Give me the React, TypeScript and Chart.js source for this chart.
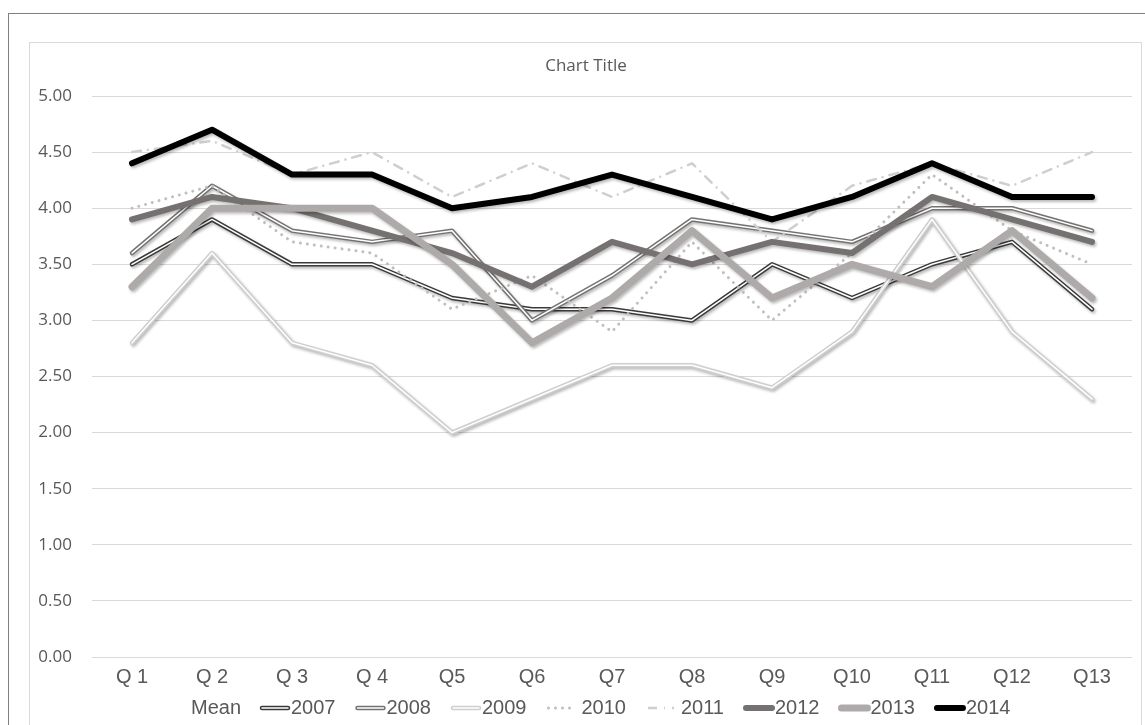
import React, { useEffect, useRef } from "react";
import { Chart, registerables } from "chart.js";

Chart.register(...registerables);

const categories = ["Q 1", "Q 2", "Q 3", "Q 4", "Q5", "Q6", "Q7", "Q8", "Q9", "Q10", "Q11", "Q12", "Q13"];
const s2007 = [3.5, 3.9, 3.5, 3.5, 3.2, 3.1, 3.1, 3.0, 3.5, 3.2, 3.5, 3.7, 3.1];
const s2008 = [3.6, 4.2, 3.8, 3.7, 3.8, 3.0, 3.4, 3.9, 3.8, 3.7, 4.0, 4.0, 3.8];
const s2009 = [2.8, 3.6, 2.8, 2.6, 2.0, 2.3, 2.6, 2.6, 2.4, 2.9, 3.9, 2.9, 2.3];
const s2010 = [4.0, 4.2, 3.7, 3.6, 3.1, 3.4, 2.9, 3.7, 3.0, 3.6, 4.3, 3.8, 3.5];
const s2011 = [4.5, 4.6, 4.3, 4.5, 4.1, 4.4, 4.1, 4.4, 3.7, 4.2, 4.4, 4.2, 4.5];
const s2012 = [3.9, 4.1, 4.0, 3.8, 3.6, 3.3, 3.7, 3.5, 3.7, 3.6, 4.1, 3.9, 3.7];
const s2013 = [3.3, 4.0, 4.0, 4.0, 3.5, 2.8, 3.2, 3.8, 3.2, 3.5, 3.3, 3.8, 3.2];
const s2014 = [4.4, 4.7, 4.3, 4.3, 4.0, 4.1, 4.3, 4.1, 3.9, 4.1, 4.4, 4.1, 4.1];

const seriesLabels = ["2007", "2008", "2009", "2010", "2011", "2012", "2013", "2014"];
const seriesData = [s2007, s2008, s2009, s2010, s2011, s2012, s2013, s2014];
const legendLead = "Mean";
const chartTitle = "Chart Title";
const yMin = 0;
const yMax = 5;
const yStep = 0.5;

type Style = { kind: "compound" | "solid" | "dotted" | "dashdot"; color: string; width: number };
const seriesStyles: Style[] = [
  { kind: "compound", color: "#3a3a3a", width: 4.5 },
  { kind: "compound", color: "#767171", width: 4.5 },
  { kind: "compound", color: "#cfcfcf", width: 4.5 },
  { kind: "dotted", color: "#bfbfbf", width: 3 },
  { kind: "dashdot", color: "#d0cece", width: 2.5 },
  { kind: "solid", color: "#767171", width: 6 },
  { kind: "solid", color: "#aeaaaa", width: 7 },
  { kind: "solid", color: "#000000", width: 6 },
];

const TEXT = "#595959";

function buildDatasets() {
  const list: any[] = [];
  seriesData.forEach((data, i) => {
    const st = seriesStyles[i];
    const base: any = {
      label: seriesLabels[i],
      data,
      borderColor: st.color,
      borderWidth: st.width,
      pointRadius: 0,
      pointHoverRadius: 0,
      tension: 0,
      fill: false,
      borderJoinStyle: "round",
      borderCapStyle: "round",
      shadow: true,
    };
    if (st.kind === "dotted") {
      base.borderDash = [0.01, 7];
      base.shadow = false;
    } else if (st.kind === "dashdot") {
      base.borderDash = [9, 7, 0.01, 7];
      base.shadow = false;
    }
    list.push(base);
    if (st.kind === "compound") {
      list.push({
        label: seriesLabels[i] + "_inner",
        data,
        borderColor: "#ffffff",
        borderWidth: 1.5,
        pointRadius: 0,
        pointHoverRadius: 0,
        tension: 0,
        fill: false,
        borderJoinStyle: "round",
        borderCapStyle: "round",
        shadow: false,
      });
    }
  });
  const n = list.length;
  list.forEach((d, idx) => (d.order = n - idx));
  return list;
}

const shadowPlugin = {
  id: "shadowPlugin",
  beforeDatasetDraw(chart: any, args: any) {
    const ds = chart.data.datasets[args.index];
    if (ds && ds.shadow) {
      const ctx = chart.ctx;
      ctx.save();
      ctx.shadowColor = "rgba(0,0,0,0.28)";
      ctx.shadowBlur = 3;
      ctx.shadowOffsetX = 1.5;
      ctx.shadowOffsetY = 2;
    }
  },
  afterDatasetDraw(chart: any, args: any) {
    const ds = chart.data.datasets[args.index];
    if (ds && ds.shadow) chart.ctx.restore();
  },
};

function drawMarker(ctx: CanvasRenderingContext2D, st: Style, x0: number, x1: number, y: number) {
  ctx.save();
  ctx.beginPath();
  ctx.moveTo(x0, y);
  ctx.lineTo(x1, y);
  ctx.strokeStyle = st.color;
  ctx.lineWidth = st.width;
  ctx.lineCap = "round";
  if (st.kind === "dotted") ctx.setLineDash([0.01, 7]);
  if (st.kind === "dashdot") {
    ctx.lineCap = "butt";
    ctx.setLineDash([9, 7, 1, 7]);
  }
  ctx.stroke();
  if (st.kind === "compound") {
    ctx.beginPath();
    ctx.moveTo(x0, y);
    ctx.lineTo(x1, y);
    ctx.strokeStyle = "#ffffff";
    ctx.lineWidth = 1.5;
    ctx.stroke();
  }
  ctx.restore();
}

const decorPlugin = {
  id: "decorPlugin",
  afterDraw(chart: any) {
    const ctx: CanvasRenderingContext2D = chart.ctx;
    ctx.save();
    // title
    ctx.fillStyle = TEXT;
    ctx.font = '17px "Open Sans"';
    ctx.textAlign = "center";
    ctx.textBaseline = "middle";
    ctx.fillText(chartTitle, chart.width / 2, 23);
    // legend
    const ly = 665;
    ctx.font = '20px "Liberation Sans"';
    ctx.textAlign = "left";
    ctx.fillStyle = TEXT;
    const meanW = ctx.measureText(legendLead).width;
    ctx.fillText(legendLead, 211 - meanW, ly);
    let x = 229;
    seriesLabels.forEach((lab, i) => {
      const st = seriesStyles[i];
      const spaced = st.kind === "dotted" || st.kind === "dashdot";
      drawMarker(ctx, st, x + 3, x + 29, ly);
      const tx = x + 32 + (spaced ? 4 : 0);
      ctx.fillStyle = TEXT;
      ctx.fillText(lab, tx, ly);
      x = tx + ctx.measureText(lab).width + 19;
    });
    ctx.restore();
  },
};

export default function App() {
  const ref = useRef<HTMLCanvasElement | null>(null);
  useEffect(() => {
    if (!ref.current) return;
    const chart = new Chart(ref.current, {
      type: "line",
      data: { labels: categories, datasets: buildDatasets() },
      options: {
        responsive: false,
        animation: false,
        devicePixelRatio: 1,
        layout: { padding: { left: 0, right: 10, top: 53, bottom: 0 } },
        plugins: {
          legend: { display: false },
          title: { display: false },
          tooltip: { enabled: false },
        },
        scales: {
          x: {
            offset: true,
            grid: { display: false, drawTicks: false },
            border: { display: false },
            ticks: {
              color: TEXT,
              font: { family: "Liberation Sans", size: 20 },
              padding: 8,
              maxRotation: 0,
              autoSkip: false,
            },
            afterFit: (s: any) => {
              s.height = 68;
            },
          },
          y: {
            min: yMin,
            max: yMax,
            grid: { color: "#d9d9d9", lineWidth: 1, drawTicks: false },
            border: { display: false },
            ticks: {
              stepSize: yStep,
              color: TEXT,
              font: { family: "Open Sans", size: 17 },
              padding: 20,
              callback: (v: any) => Number(v).toFixed(2),
            },
            afterFit: (s: any) => {
              s.width = 62;
            },
          },
        },
      } as any,
      plugins: [shadowPlugin, decorPlugin],
    });
    return () => chart.destroy();
  }, []);

  return (
    <div style={{ position: "fixed", left: 0, top: 0, width: 1145, height: 725, overflow: "hidden", background: "#fff" }}>
      <div style={{ position: "absolute", left: 8, top: 13, width: 1300, height: 900, borderLeft: "1.5px solid #7f7f7f", borderTop: "1.5px solid #7f7f7f" }} />
      <div style={{ position: "absolute", left: 29, top: 42, width: 1113, height: 900, border: "1px solid #d9d9d9", boxSizing: "border-box" }} />
      <canvas ref={ref} width={1112} height={682} style={{ position: "absolute", left: 30, top: 43, width: 1112, height: 682 }} />
    </div>
  );
}
